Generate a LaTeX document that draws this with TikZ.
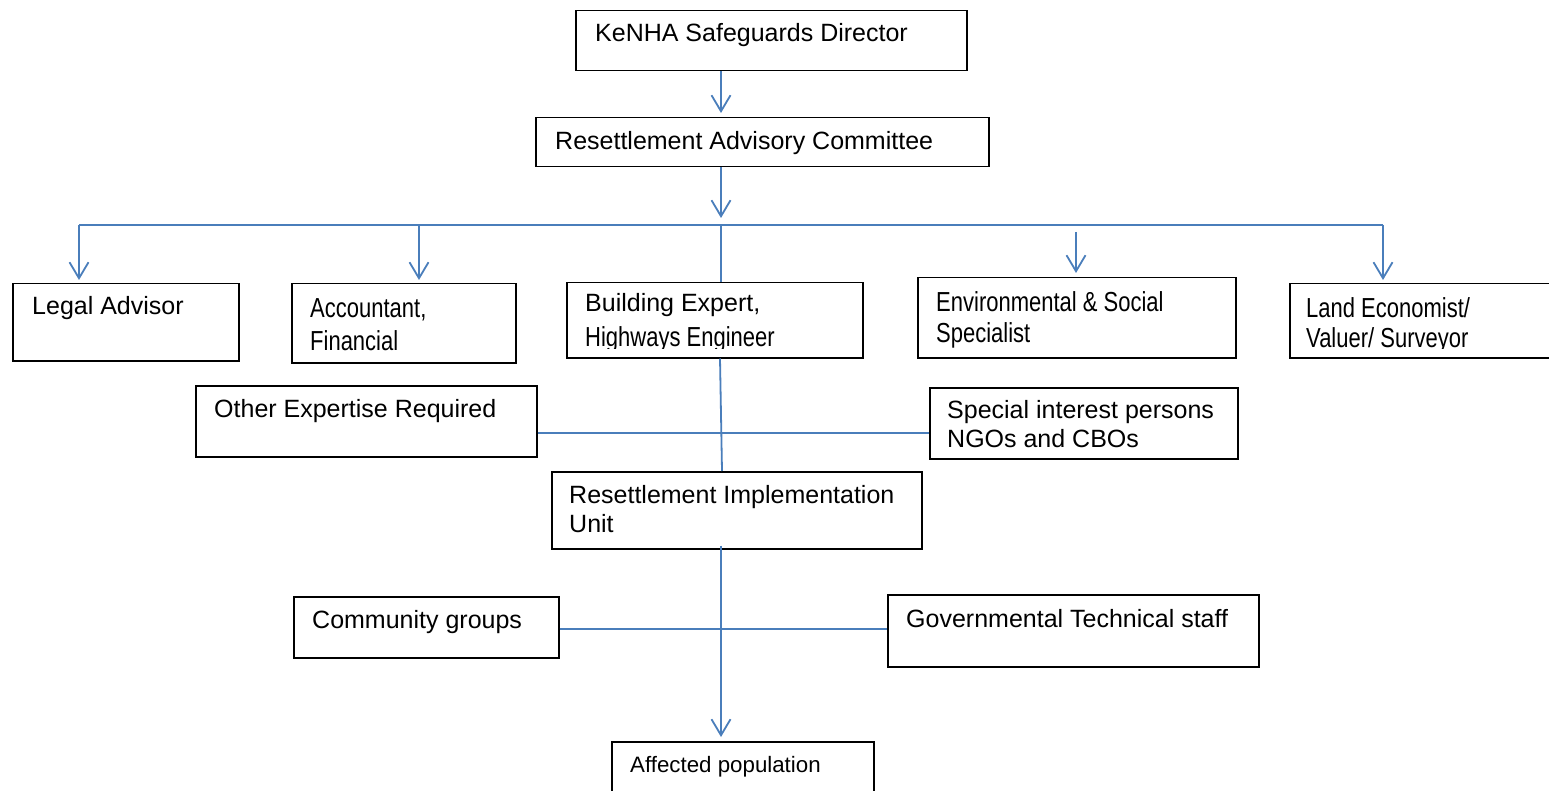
\documentclass[tikz,border=0pt]{standalone}
\usepackage{fontspec}
\setmainfont{Liberation Sans}
\usetikzlibrary{arrows.meta}
\definecolor{linkblue}{RGB}{74,126,187}
% condensed, slightly taller lettering used in some boxes
\newcommand{\narrowtxt}[1]{\scalebox{0.88}[1.1]{#1}}
\begin{document}
\begin{tikzpicture}[x=1pt,y=-1pt,
  box/.style={draw=black, line width=1.5pt, inner sep=0pt, anchor=north west},
  lbl/.style={anchor=base west, inner sep=0pt, font=\fontsize{25}{30}\selectfont},
  smalllbl/.style={anchor=base west, inner sep=0pt, font=\fontsize{22.3}{27}\selectfont},
  link/.style={draw=linkblue, line width=1.8pt},
  arr/.style={link, -{Straight Barb[length=16pt,width=19pt]}}]
\useasboundingbox (0,0) rectangle (1549,791);
\fill[white] (0,0) rectangle (1549,791);

% ---- boxes ----
\node[box, minimum width=391pt, minimum height=60pt] (dir)  at (575,10)  {};
\node[box, minimum width=453pt, minimum height=49pt] (rac)  at (535,117) {};
\node[box, minimum width=226pt, minimum height=77pt] (legal) at (12,283) {};
\node[box, minimum width=224pt, minimum height=79pt] (acct) at (291,283) {};
\node[box, minimum width=296pt, minimum height=75pt] (bexp) at (566,282) {};
\node[box, minimum width=318pt, minimum height=80pt] (env)  at (917,277) {};
\node[box, minimum width=300pt, minimum height=74pt] (land) at (1289,283) {};
\node[box, minimum width=341pt, minimum height=71pt] (oth)  at (195,385) {};
\node[box, minimum width=308pt, minimum height=71pt] (spi)  at (929,387) {};
\node[box, minimum width=370pt, minimum height=77pt] (riu)  at (551,471) {};
\node[box, minimum width=265pt, minimum height=61pt] (com)  at (293,596) {};
\node[box, minimum width=371pt, minimum height=72pt] (gov)  at (887,594) {};
\node[box, minimum width=262pt, minimum height=80pt] (aff)  at (611,741) {};

% ---- labels ----
\node[lbl] (dirT)   at (595,42)  {KeNHA Safeguards Director};
\node[lbl] (racT)   at (555,150) {Resettlement Advisory Committee};
\node[lbl] (legalT) at (32,315)  {Legal Advisor};
\node[lbl] (acctT1) at (310,318) {\narrowtxt{Accountant,}};
\node[lbl] (acctT2) at (310,350) {\narrowtxt{Financial}};
\node[lbl] (bexpT1) at (585,312) {Building Expert,};
\node[lbl] (envT1)  at (936,312) {\narrowtxt{Environmental \& Social}};
\node[lbl] (envT2)  at (936,342) {\narrowtxt{Specialist}};
\node[lbl] (landT1) at (1306,318) {\narrowtxt{Land Economist/}};
% the second lines of these two boxes are cut off by the box's inner margin
\begin{scope}
  \clip (560,320) rectangle (1549,348.5);
  \node[lbl] (bexpT2) at (585,346)  {\narrowtxt{Highways Engineer}};
  \node[lbl] (landT2) at (1306,347) {\narrowtxt{Valuer/ Surveyor}};
\end{scope}
\node[lbl] (othT)   at (214,417) {Other Expertise Required};
\node[lbl] (spiT1)  at (947,418) {Special interest persons};
\node[lbl] (spiT2)  at (947,447) {NGOs and CBOs};
\node[lbl] (riuT1)  at (569,503) {Resettlement Implementation};
\node[lbl] (riuT2)  at (569,532) {Unit};
\node[lbl] (comT)   at (312,628) {Community groups};
\node[lbl] (govT)   at (906,627) {Governmental Technical staff};
\node[smalllbl] (affT) at (630,772) {Affected population};

% ---- connectors ----
\coordinate (sp) at (721,0);
\coordinate (bar) at (721,225);
\coordinate (cL) at (79,225);
\coordinate (cA) at (419,225);
\coordinate (cE) at (1076,225);
\coordinate (cR) at (1383,225);
\coordinate (b1) at (720,0);
\coordinate (b2) at (722,0);
\coordinate (m1) at (721,433);
\coordinate (m2) at (721,629);

\draw[arr, shorten >=4pt] (dir.south -| sp) -- (rac.north -| sp);
\draw[arr, shorten >=7pt] (rac.south -| sp) -- (bar);
\draw[link] (cL) -- (cR);
\draw[arr, shorten >=3pt] (cL) -- (legal.north -| cL);
\draw[arr, shorten >=3pt] (cA) -- (acct.north -| cA);
\draw[link] (bar) -- (bexp.north -| bar);
\draw[arr, shorten <=7pt, shorten >=4pt] (cE) -- (env.north -| cE);
\draw[arr, shorten >=3pt] (cR) -- (land.north -| cR);
\draw[link] (bexp.south -| b1) -- (riu.north -| b2);
\draw[link] (oth.east |- m1) -- (spi.west |- m1);
\draw[arr, shorten >=4pt] ([yshift=4pt]riu.south -| sp) -- (aff.north -| sp);
\draw[link] (com.east |- m2) -- (gov.west |- m2);
\end{tikzpicture}
\end{document}
